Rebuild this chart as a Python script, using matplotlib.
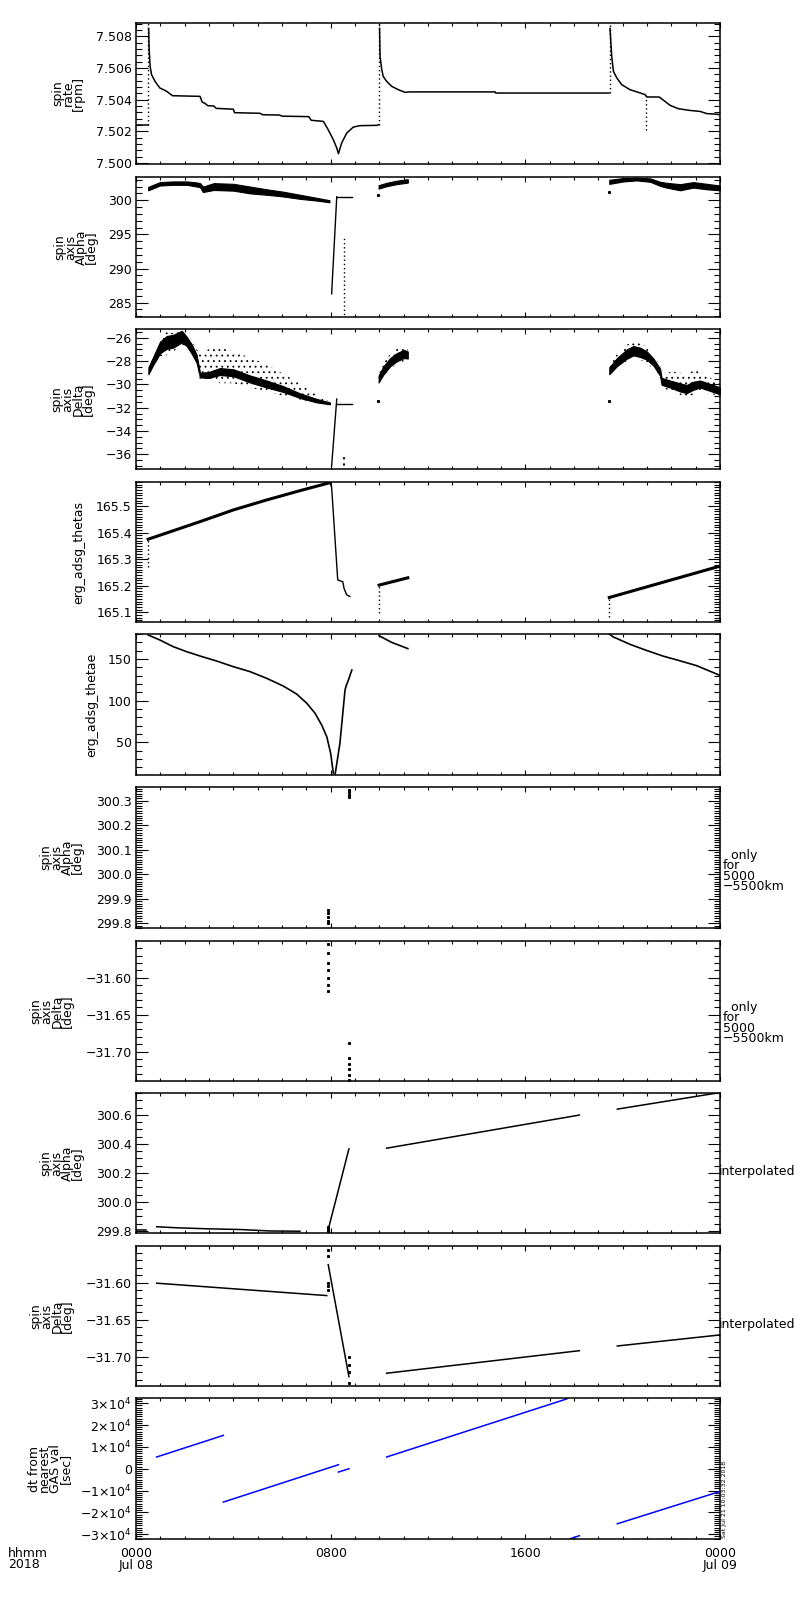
import matplotlib
matplotlib.use('Agg')
import matplotlib.pyplot as plt
from matplotlib.ticker import MultipleLocator, FixedLocator, FuncFormatter

plt.rcParams['font.family'] = ['DejaVu Sans']
plt.rcParams['axes.unicode_minus'] = True
plt.rcParams['hatch.linewidth'] = 0.6

# ---------------- data (time in hours from 2018-07-08 00:00) ----------------
# Panel 1: spin rate [rpm]
sr_a_t = [0.0, 0.48]
sr_a_v = [7.50238, 7.50238]
sr_b_t = [0.52, 0.54, 0.58, 0.64, 0.78, 0.98, 1.26, 1.5, 2.63, 2.72, 2.85, 2.95, 3.2, 3.3, 4.0, 4.05,
          5.1, 5.2, 5.9, 6.0, 7.1, 7.2, 7.7, 7.9, 8.11, 8.25, 8.32, 8.45, 8.66, 8.93, 9.2, 9.9, 9.97]
sr_b_v = [7.5085, 7.50716, 7.50611, 7.50558, 7.50516, 7.50474, 7.50453, 7.50425, 7.50421, 7.50385,
          7.50375, 7.50362, 7.50360, 7.50345, 7.50340, 7.50318, 7.50314, 7.50305, 7.50303, 7.50296,
          7.50293, 7.50270, 7.50263, 7.50210, 7.50147, 7.50095, 7.50059, 7.50126, 7.50189, 7.50227,
          7.50236, 7.50238, 7.50242]
sr_c_t = [10.01, 10.03, 10.1, 10.16, 10.3, 10.51, 10.78, 11.06, 11.2, 14.76, 14.78, 19.44]
sr_c_v = [7.5085, 7.50673, 7.50589, 7.50547, 7.50516, 7.50484, 7.50463, 7.50446, 7.50449, 7.50449,
          7.50442, 7.50442]
sr_d_t = [19.48, 19.55, 19.62, 19.76, 19.96, 20.3, 20.65, 20.92, 21.0, 21.5, 21.74, 21.95, 22.29,
          22.77, 23.18, 23.46, 23.8, 24.0]
sr_d_v = [7.5085, 7.50673, 7.50579, 7.50537, 7.50495, 7.50463, 7.50446, 7.50432, 7.50417, 7.50417,
          7.50389, 7.50364, 7.50343, 7.50332, 7.50326, 7.50312, 7.50309, 7.50305]
sr_jump_t = [0.50, 9.99, 19.46, 20.95]
sr_jump_lo = [7.50238, 7.50242, 7.50442, 7.50206]
sr_jump_hi = [7.5089, 7.5089, 7.5089, 7.50432]

# Panel 2: spin axis Alpha [deg]
al_a_t = [0.5, 0.98, 1.5, 2.1, 2.5, 2.63, 2.75, 3.2, 4.0, 4.69, 5.37, 6.05, 6.74, 7.43, 7.95]
al_a_c = [301.7, 302.4, 302.5, 302.5, 302.3, 302.2, 301.6, 302.0, 301.9, 301.5, 301.2, 300.9, 300.5, 300.15, 299.85]
al_a_w = [0.25, 0.25, 0.25, 0.25, 0.3, 0.3, 0.4, 0.5, 0.5, 0.5, 0.4, 0.35, 0.3, 0.2, 0.15]
al_jump_t = [8.04, 8.25]
al_jump_v = [286.3, 300.5]
al_flat_t = [8.27, 8.87]
al_flat_v = [300.4, 300.4]
al_b_t = [9.97, 10.3, 10.7, 11.17]
al_b_c = [301.95, 302.3, 302.6, 302.83]
al_b_w = [0.25, 0.25, 0.25, 0.25]
al_c_t = [19.45, 20.03, 20.58, 21.13, 21.54, 21.8, 22.36, 22.9, 23.46, 24.0]
al_c_c = [302.69, 303.0, 303.1, 302.95, 302.4, 302.2, 301.9, 302.25, 302.0, 301.8]
al_c_w = [0.3, 0.25, 0.2, 0.25, 0.3, 0.35, 0.45, 0.4, 0.4, 0.35]
al_dot_t = [9.95, 19.45]
al_dot_v = [300.73, 301.2]
al_drop_t = [8.56]
al_drop_lo = [282.0]
al_drop_hi = [294.4]

# Panel 3: spin axis Delta [deg]
de_a_t = [0.51, 0.71, 0.99, 1.26, 1.53, 1.88, 2.08, 2.29, 2.49, 2.63, 2.97, 3.45, 4.0, 4.69, 5.37, 6.05, 6.74, 7.43, 7.97]
de_a_c = [-28.83, -27.97, -26.83, -26.4, -26.3, -25.9, -26.3, -26.97, -27.8, -29.2, -29.2, -28.9, -29.0,
          -29.54, -29.97, -30.4, -30.97, -31.4, -31.63]
de_a_w = [0.3, 0.35, 0.5, 0.55, 0.55, 0.5, 0.4, 0.4, 0.35, 0.2, 0.25, 0.3, 0.3, 0.3, 0.3, 0.25, 0.2, 0.15, 0.08]
de_a_up = [-28.5, -27.5, -26.0, -25.5, -25.6, -25.4, -25.8, -26.2, -27.0, -27.3, -27.0, -26.8, -27.2,
           -27.7, -28.3, -29.1, -29.9, -30.9, -31.5]
de_a_lo = [-29.1, -28.5, -27.6, -27.5, -27.2, -26.6, -26.8, -27.7, -28.5, -29.6, -29.7, -29.9, -29.9,
           -30.3, -30.6, -31.0, -31.3, -31.6, -31.7]
de_jump_t = [8.04, 8.25]
de_jump_v = [-37.0, -31.26]
de_flat_t = [8.27, 8.87]
de_flat_v = [-31.69, -31.69]
de_b_t = [9.97, 10.16, 10.44, 10.71, 11.0, 11.17]
de_b_c = [-29.54, -28.83, -28.1, -27.68, -27.4, -27.48]
de_b_w = [0.3, 0.35, 0.35, 0.35, 0.35, 0.3]
de_b_up = [-29.0, -28.2, -27.4, -26.8, -26.6, -26.9]
de_b_lo = [-29.9, -29.3, -28.7, -28.3, -28.0, -27.9]
de_c_t = [19.45, 19.76, 20.17, 20.44, 20.72, 21.0, 21.27, 21.54, 21.6, 21.95, 22.36, 22.63, 22.9, 23.18, 23.59, 24.0]
de_c_c = [-28.83, -28.1, -27.4, -27.11, -27.25, -27.54, -28.1, -28.97, -29.74, -29.97, -30.26, -30.4,
          -30.12, -29.97, -30.26, -30.55]
de_c_w = [0.3, 0.35, 0.4, 0.4, 0.4, 0.35, 0.3, 0.3, 0.3, 0.3, 0.35, 0.35, 0.35, 0.3, 0.3, 0.3]
de_c_up = [-28.4, -27.4, -26.6, -26.3, -26.4, -26.8, -27.4, -28.4, -29.4, -28.9, -29.0, -29.2, -28.8,
           -28.9, -29.4, -30.0]
de_c_lo = [-29.2, -28.6, -28.0, -27.8, -27.9, -28.2, -28.7, -29.4, -30.2, -30.6, -30.9, -31.1, -30.9,
           -30.6, -30.8, -31.0]
de_dot_t = [9.95, 19.45]
de_dot_v = [-31.41, -31.41]
de_drop_t = [8.56]
de_drop_lo = [-38.0]
de_drop_hi = [-35.85]

# Panel 4: erg_adsg_thetas
ts_a_t = [0.5, 2.63, 4.0, 5.37, 6.74, 7.97]
ts_a_v = [165.375, 165.441, 165.485, 165.5225, 165.5575, 165.5875]
ts_drop_t = [7.97, 8.04, 8.29, 8.5, 8.55, 8.66, 8.79]
ts_drop_v = [165.5875, 165.57, 165.222, 165.215, 165.19, 165.166, 165.16]
ts_b_t = [9.99, 11.17]
ts_b_v = [165.2026, 165.23]
ts_c_t = [19.45, 24.0]
ts_c_v = [165.156, 165.274]
ts_dots_t = [0.5, 9.97, 19.45]
ts_dots_lo = [165.27, 165.096, 165.083]
ts_dots_hi = [165.375, 165.2026, 165.156]

# Panel 5: erg_adsg_thetae
te_a_t = [0.5, 0.98, 1.53, 2.08, 2.63, 3.31, 4.0, 4.69, 5.37, 6.05, 6.6, 7.02, 7.36, 7.63, 7.84, 8.0, 8.11]
te_a_v = [178.8, 172.8, 164.8, 158.8, 153.6, 147.6, 140.8, 134.8, 126.8, 117.6, 108.0, 96.8, 84.8,
          70.8, 56.8, 36.8, 12.8]
te_r_t = [8.18, 8.38, 8.59, 8.64, 8.73, 8.87]
te_r_v = [11.0, 48.8, 112.8, 118.0, 124.8, 136.8]
te_b_t = [9.99, 10.5, 11.17]
te_b_v = [178.0, 170.0, 162.5]
te_c_t = [19.45, 19.6, 20.3, 20.99, 21.67, 22.36, 23.05, 24.0]
te_c_v = [180.0, 176.7, 167.6, 160.2, 153.4, 147.8, 141.9, 130.3]

# Panel 6: spin axis Alpha only for 5000-5500 km
a5_t = [7.88, 7.88, 7.88, 7.88, 7.88, 8.75, 8.75, 8.75, 8.75]
a5_v = [299.80, 299.81, 299.825, 299.84, 299.855, 300.315, 300.325, 300.335, 300.345]

# Panel 7: spin axis Delta only for 5000-5500 km
d5_t = [7.88, 7.88, 7.88, 7.88, 7.88, 7.88, 7.88, 8.75, 8.75, 8.75, 8.75, 8.75, 8.75]
d5_v = [-31.555, -31.566, -31.58, -31.59, -31.60, -31.61, -31.618,
        -31.688, -31.708, -31.716, -31.724, -31.732, -31.738]

# Panel 8: interpolated Alpha
ai_a_t = [0.0, 0.4]
ai_a_v = [299.806, 299.806]
ai_b_t = [0.85, 1.67, 2.9, 4.27, 5.5, 6.74]
ai_b_v = [299.829, 299.822, 299.815, 299.81, 299.80, 299.798]
ai_r_t = [7.9, 8.75]
ai_r_v = [299.81, 300.365]
ai_c_t = [10.3, 18.22]
ai_c_v = [300.37, 300.598]
ai_d_t = [19.78, 24.0]
ai_d_v = [300.639, 300.753]
ai_dot_t = [7.88, 7.88, 7.88]
ai_dot_v = [299.80, 299.815, 299.83]

# Panel 9: interpolated Delta
di_a_t = [0.85, 7.84]
di_a_v = [-31.6008, -31.6174]
di_r_t = [7.9, 8.75]
di_r_v = [-31.576, -31.726]
di_c_t = [10.3, 18.22]
di_c_v = [-31.7214, -31.6912]
di_d_t = [19.78, 24.0]
di_d_v = [-31.6849, -31.6701]
di_dot_t = [7.88, 7.88, 7.88, 7.88, 7.88, 8.75, 8.75, 8.75, 8.75]
di_dot_v = [-31.556, -31.565, -31.60, -31.605, -31.61, -31.70, -31.71, -31.72, -31.735]

# Panel 10: dt from nearest GAS val [sec]
dt_segs_t = [[0.85, 3.59], [3.59, 8.32], [8.32, 8.75], [10.3, 17.7], [17.84, 18.22], [19.78, 24.0]]
dt_segs_v = [[5370, 15280], [-15280, 1830], [-1530, 0], [5370, 31970], [-32100, -30700], [-25230, -10410]]

# axis labels / ticks
x_major = [0, 8, 16, 24]
x_labels = ['0000\nJul 08', '0800', '1600', '0000\nJul 09']
y_titles = ['spin\nrate\n[rpm]', 'spin\naxis\nAlpha\n[deg]', 'spin\naxis\nDelta\n[deg]', 'erg_adsg_thetas',
            'erg_adsg_thetae', 'spin\naxis\nAlpha\n[deg]', 'spin\naxis\nDelta\n[deg]',
            'spin\naxis\nAlpha\n[deg]', 'spin\naxis\nDelta\n[deg]', 'dt from\nnearest\nGAS val\n[sec]']
y_limits = [(7.49994, 7.50884), (282.9, 303.4), (-37.26, -25.25), (165.064, 165.59), (10.8, 180.0),
            (299.78, 300.357), (-31.7396, -31.5504), (299.786, 300.75), (-31.7385, -31.551), (-32200, 32400)]
y_major = [0.002, 5, 2, 0.1, 50, 0.1, 0.05, 0.2, 0.05, 10000]
y_minor = [0.0004, 1, 0.5, 0.01, 10, 0.01, 0.01, 0.05, 0.01, 1000]
y_fmt = ['%.3f', '%d', '%d', '%.1f', '%d', '%.1f', '%.2f', '%.1f', '%.2f', None]
right_note = '  only\nfor\n5000\n\u22125500km'
stamp = 'Sat Jul 21 10:03:32 2018'

# ---------------- layout ----------------
W, H = 800, 1600
fig = plt.figure(figsize=(8, 16), dpi=100)
panel_px = [(23, 164), (177, 317), (329, 469), (482, 622), (634, 775), (787, 928),
            (941, 1081), (1093, 1233), (1246, 1386), (1398, 1539)]
title_x_px = [68, 76, 73, 79, 92, 62, 52, 62, 52, 50]
X0, X1 = 136, 720


def sci_fmt(v, pos):
    n = int(round(v / 1e4))
    if n == 0:
        return '0'
    return r'$%s%d{\times}10^{4}$' % ('-' if n < 0 else '', abs(n))


def make_fmt(f):
    return FuncFormatter(lambda v, pos: (f % v).replace('-', '\u2212'))


axes = []
for i, (t, b) in enumerate(panel_px):
    ax = fig.add_axes([X0 / W, 1 - b / H, (X1 - X0) / W, (b - t) / H])
    axes.append(ax)
    ax.set_xlim(0, 24)
    ax.set_ylim(*y_limits[i])
    ax.xaxis.set_major_locator(FixedLocator(x_major))
    ax.xaxis.set_minor_locator(MultipleLocator(1))
    ax.yaxis.set_major_locator(MultipleLocator(y_major[i]))
    ax.yaxis.set_minor_locator(MultipleLocator(y_minor[i]))
    if y_fmt[i] is None:
        ax.yaxis.set_major_formatter(FuncFormatter(sci_fmt))
    else:
        ax.yaxis.set_major_formatter(make_fmt(y_fmt[i]))
    ax.tick_params(which='both', direction='in', top=True, right=True, width=0.8,
                   colors='black', labelsize=9)
    ax.tick_params(axis='y', which='major', length=8.6, pad=3)
    ax.tick_params(axis='y', which='minor', length=4.3)
    ax.tick_params(axis='x', which='major', length=3.6, pad=6)
    ax.tick_params(axis='x', which='minor', length=2.2)
    for s in ax.spines.values():
        s.set_linewidth(1.1)
    if i < 9:
        ax.tick_params(axis='x', labelbottom=False)
    else:
        ax.set_xticklabels(x_labels)
        for lbl in ax.get_xticklabels():
            lbl.set_linespacing(0.82)
    yc = (t + b) / 2
    fig.text(title_x_px[i] / W, 1 - yc / H, y_titles[i], rotation=90, ha='center', va='center',
             fontsize=9, linespacing=0.75, multialignment='center')

K = 'black'
dot_ls = (0, (1, 2))

# Panel 1
ax = axes[0]
for tt, vv in [(sr_a_t, sr_a_v), (sr_b_t, sr_b_v), (sr_c_t, sr_c_v), (sr_d_t, sr_d_v)]:
    ax.plot(tt, vv, color=K, lw=1.1)
ax.vlines(sr_jump_t, sr_jump_lo, sr_jump_hi, colors=K, linestyles=[dot_ls], lw=1)


def band(ax, t, c, w, up=None, lo=None):
    c_up = [a + b for a, b in zip(c, w)]
    c_lo = [a - b for a, b in zip(c, w)]
    if up is not None:
        ax.fill_between(t, lo, up, facecolor='none', edgecolor=K, hatch='...', lw=0)
    ax.fill_between(t, c_lo, c_up, color=K, lw=0.8)


# Panel 2
ax = axes[1]
band(ax, al_a_t, al_a_c, al_a_w)
band(ax, al_b_t, al_b_c, al_b_w)
band(ax, al_c_t, al_c_c, al_c_w)
ax.plot(al_jump_t, al_jump_v, color=K, lw=1)
ax.plot(al_flat_t, al_flat_v, color=K, lw=1)
ax.plot(al_dot_t, al_dot_v, 's', color=K, ms=1.2)
ax.vlines(al_drop_t, al_drop_lo, al_drop_hi, colors=K, linestyles=[dot_ls], lw=1)

# Panel 3
ax = axes[2]
band(ax, de_a_t, de_a_c, de_a_w, de_a_up, de_a_lo)
band(ax, de_b_t, de_b_c, de_b_w, de_b_up, de_b_lo)
band(ax, de_c_t, de_c_c, de_c_w, de_c_up, de_c_lo)
ax.plot(de_jump_t, de_jump_v, color=K, lw=1)
ax.plot(de_flat_t, de_flat_v, color=K, lw=1)
ax.plot(de_dot_t, de_dot_v, 's', color=K, ms=1.2)
ax.vlines(de_drop_t, de_drop_lo, de_drop_hi, colors=K, linestyles=[dot_ls], lw=1.5)

# Panel 4
ax = axes[3]
ax.plot(ts_a_t, ts_a_v, color=K, lw=2.2)
ax.plot(ts_drop_t, ts_drop_v, color=K, lw=1)
ax.plot(ts_b_t, ts_b_v, color=K, lw=2.2)
ax.plot(ts_c_t, ts_c_v, color=K, lw=2.2)
ax.vlines(ts_dots_t, ts_dots_lo, ts_dots_hi, colors=K, linestyles=[dot_ls], lw=1)

# Panel 5
ax = axes[4]
for tt, vv in [(te_a_t, te_a_v), (te_r_t, te_r_v), (te_b_t, te_b_v), (te_c_t, te_c_v)]:
    ax.plot(tt, vv, color=K, lw=1.2)

# Panel 6, 7
axes[5].plot(a5_t, a5_v, 's', color=K, ms=1.2)
axes[6].plot(d5_t, d5_v, 's', color=K, ms=1.2)

# Panel 8
ax = axes[7]
for tt, vv in [(ai_a_t, ai_a_v), (ai_b_t, ai_b_v), (ai_r_t, ai_r_v), (ai_c_t, ai_c_v), (ai_d_t, ai_d_v)]:
    ax.plot(tt, vv, color=K, lw=1.1)
ax.plot(ai_dot_t, ai_dot_v, 's', color=K, ms=1.2)

# Panel 9
ax = axes[8]
for tt, vv in [(di_a_t, di_a_v), (di_r_t, di_r_v), (di_c_t, di_c_v), (di_d_t, di_d_v)]:
    ax.plot(tt, vv, color=K, lw=1.1)
ax.plot(di_dot_t, di_dot_v, 's', color=K, ms=1.2)

# Panel 10
ax = axes[9]
for tt, vv in zip(dt_segs_t, dt_segs_v):
    ax.plot(tt, vv, color='#0000ff', lw=1.1)

# right side annotations
for yc in (871, 1023):
    fig.text(723 / W, 1 - yc / H, right_note, ha='left', va='center', fontsize=9, linespacing=0.72)
for yc in (1171.7, 1324.3):
    fig.text(719 / W, 1 - yc / H, 'interpolated', ha='left', va='center', fontsize=9)
fig.text(724.5 / W, 1 - 1538 / H, stamp, rotation=90, ha='center', va='bottom', fontsize=4.5)
fig.text(8 / W, 1 - 1547 / H, 'hhmm\n2018', ha='left', va='top', fontsize=9, linespacing=0.82)

fig.savefig('out.png', dpi=100, facecolor='white')
